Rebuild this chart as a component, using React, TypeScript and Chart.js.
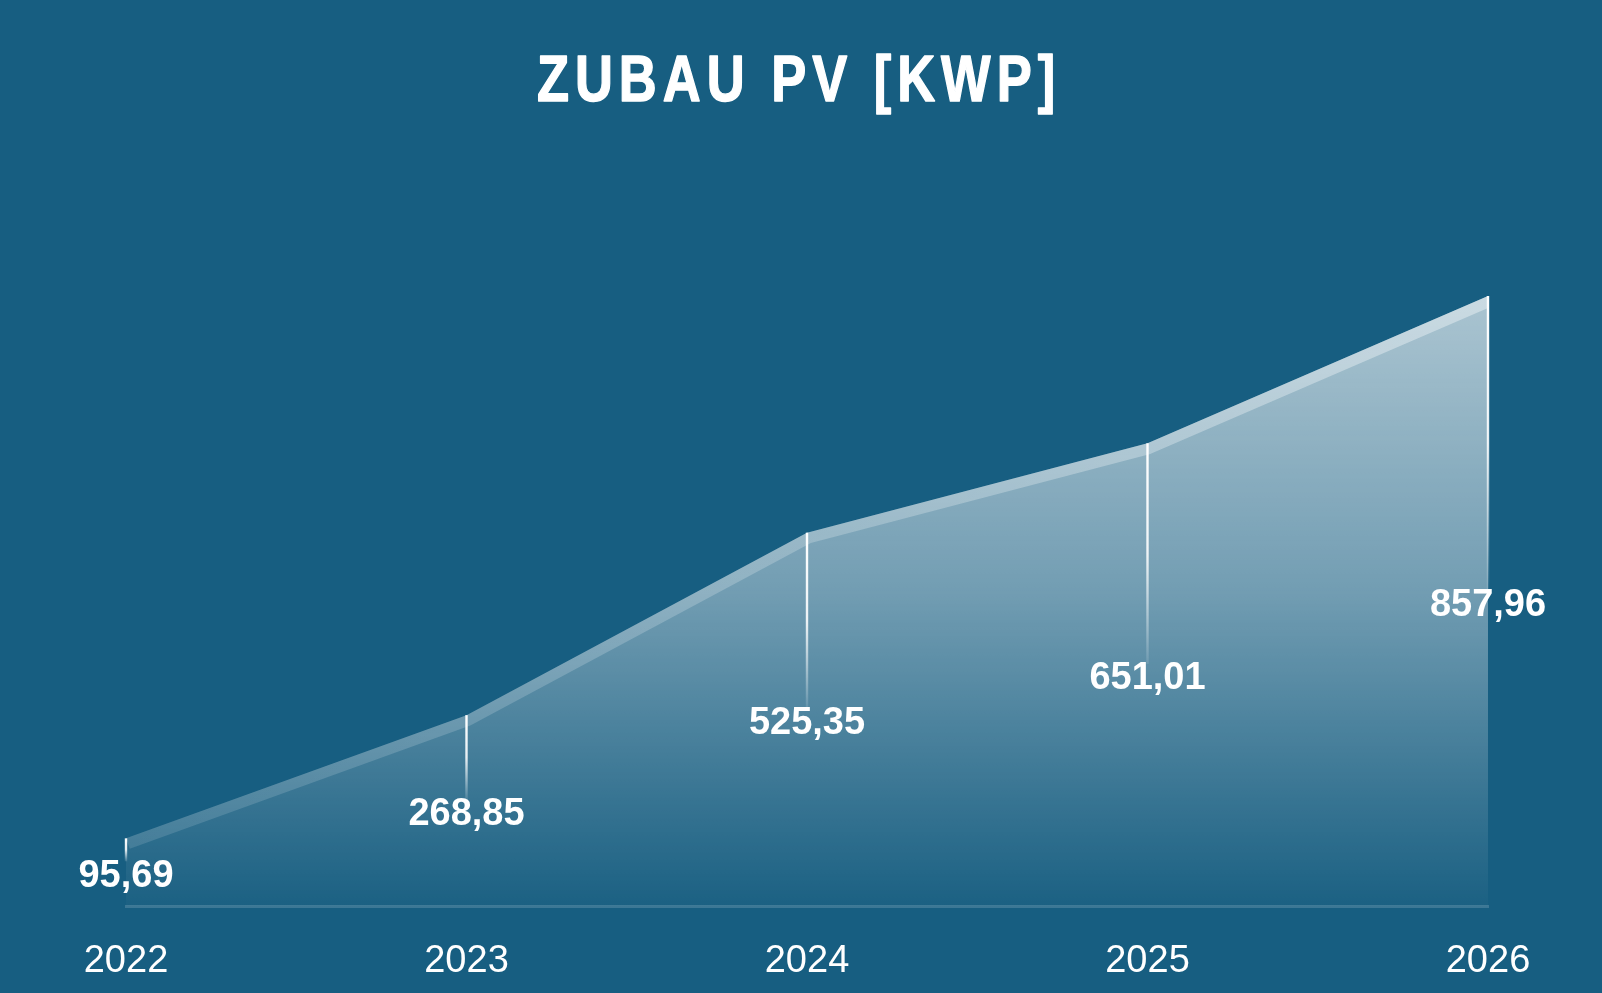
import React, { useEffect, useRef } from "react";
import { Chart, registerables } from "chart.js";

Chart.register(...registerables);

const YEARS: string[] = ["2022", "2023", "2024", "2025", "2026"];
const ZUBAU_KWP: number[] = [95.69, 268.85, 525.35, 651.01, 857.96];
const TITLE_TEXT = "ZUBAU PV [KWP]";
const Y_MIN = 0;
const Y_MAX = 1000;

const BG = "#175E81";
const LABEL_FONT = "'Liberation Sans', Arial, sans-serif";

const fmt = (v: number) => v.toFixed(2).replace(".", ",");

const areaClipPlugin = {
  id: "areaClip",
  beforeDatasetDraw(chart: any, args: any) {
    const meta = chart.getDatasetMeta(args.index);
    const pts = meta.data;
    const bottom = chart.scales.y.getPixelForValue(0);
    const ctx = chart.ctx;
    ctx.save();
    ctx.beginPath();
    ctx.moveTo(pts[0].x, bottom);
    for (const p of pts) ctx.lineTo(p.x, p.y);
    ctx.lineTo(pts[pts.length - 1].x, bottom);
    ctx.closePath();
    ctx.clip();
  },
  afterDatasetDraw(chart: any) {
    chart.ctx.restore();
  },
};

const dropLabelPlugin = {
  id: "dropLabels",
  afterDatasetsDraw(chart: any) {
    const ctx = chart.ctx;
    const meta = chart.getDatasetMeta(0);
    const ys = chart.scales.y;
    const values = chart.data.datasets[0].data as number[];
    ctx.save();
    ctx.font = `bold 38px ${LABEL_FONT}`;
    ctx.textAlign = "center";
    ctx.textBaseline = "middle";
    meta.data.forEach((p: any, i: number) => {
      const v = values[i];
      const ly = ys.getPixelForValue(v / 2) + 4;
      const endY = ly - 15;
      if (endY > p.y) {
        const g = ctx.createLinearGradient(0, p.y, 0, endY);
        g.addColorStop(0, "rgba(255,255,255,1)");
        g.addColorStop(0.5, "rgba(255,255,255,0.88)");
        g.addColorStop(1, "rgba(255,255,255,0.1)");
        ctx.strokeStyle = g;
        ctx.lineWidth = 2.4;
        ctx.beginPath();
        ctx.moveTo(p.x, p.y);
        ctx.lineTo(p.x, endY);
        ctx.stroke();
      }
      ctx.fillStyle = "#ffffff";
      ctx.fillText(fmt(v), p.x, ly);
    });
    ctx.restore();
  },
};

const titlePlugin = {
  id: "spacedTitle",
  afterDraw(chart: any) {
    const ctx = chart.ctx;
    const sx = 0.82;
    ctx.save();
    ctx.translate(chart.width / 2 - 2, 101);
    ctx.scale(sx, 1);
    ctx.font = `bold 64px ${LABEL_FONT}`;
    (ctx as any).letterSpacing = `${6 / sx}px`;
    ctx.fillStyle = "#ffffff";
    ctx.strokeStyle = "#ffffff";
    ctx.lineWidth = 1.4;
    ctx.lineJoin = "round";
    ctx.textAlign = "center";
    ctx.textBaseline = "alphabetic";
    ctx.fillText(TITLE_TEXT, 0, 0);
    ctx.strokeText(TITLE_TEXT, 0, 0);
    ctx.restore();
  },
};

export default function App() {
  const canvasRef = useRef<HTMLCanvasElement | null>(null);

  useEffect(() => {
    document.body.style.margin = "0";
    document.body.style.background = BG;
    document.body.style.overflow = "hidden";
    document.documentElement.style.overflow = "hidden";
    const canvas = canvasRef.current;
    if (!canvas) return;
    const chart = new Chart(canvas, {
      type: "line",
      data: {
        labels: YEARS,
        datasets: [
          {
            label: "Zubau PV [kWp]",
            data: ZUBAU_KWP,
            tension: 0,
            borderWidth: 22,
            borderColor: (c: any) => {
              const ca = c.chart.chartArea;
              if (!ca) return "rgba(255,255,255,0.28)";
              const g = c.chart.ctx.createLinearGradient(ca.left, 0, ca.right, 0);
              g.addColorStop(0, "rgba(255,255,255,0.12)");
              g.addColorStop(0.5, "rgba(255,255,255,0.22)");
              g.addColorStop(1, "rgba(255,255,255,0.38)");
              return g;
            },
            borderJoinStyle: "round",
            pointRadius: 0,
            pointHoverRadius: 0,
            fill: "origin",
            backgroundColor: (c: any) => {
              const ca = c.chart.chartArea;
              if (!ca) return "rgba(255,255,255,0.4)";
              const g = c.chart.ctx.createLinearGradient(0, ca.top, 0, ca.bottom);
              g.addColorStop(0, "rgba(255,255,255,0.72)");
              g.addColorStop(0.55, "rgba(255,255,255,0.40)");
              g.addColorStop(0.85, "rgba(255,255,255,0.14)");
              g.addColorStop(1, "rgba(255,255,255,0.02)");
              return g;
            },
          },
        ],
      },
      options: {
        animation: false,
        responsive: true,
        maintainAspectRatio: false,
        layout: { padding: { top: 195, left: 126, right: 114, bottom: 0 } },
        plugins: {
          legend: { display: false },
          title: { display: false },
          tooltip: { enabled: false },
        },
        scales: {
          x: {
            offset: false,
            grid: { display: false, drawTicks: false },
            border: { display: true, color: "rgba(255,255,255,0.16)", width: 3 },
            ticks: {
              color: "#ffffff",
              padding: 32,
              font: { family: LABEL_FONT, size: 38, weight: "normal" },
              maxRotation: 0,
            },
          },
          y: {
            display: false,
            min: Y_MIN,
            max: Y_MAX,
          },
        },
      },
      plugins: [areaClipPlugin, dropLabelPlugin, titlePlugin],
    } as any);
    return () => chart.destroy();
  }, []);

  return (
    <div style={{ width: 1602, height: 993, overflow: "hidden", background: BG }}>
      <div style={{ width: 1602, height: 1016, position: "relative" }}>
        <canvas ref={canvasRef} />
      </div>
    </div>
  );
}
